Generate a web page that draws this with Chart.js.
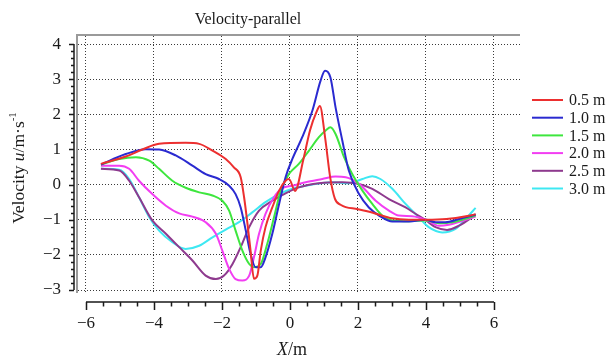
<!DOCTYPE html>
<html>
<head>
<meta charset="utf-8">
<title>Velocity-parallel</title>
<script src="https://cdn.jsdelivr.net/npm/chart.js@4/dist/chart.umd.min.js"></script>
<style>
  html, body { margin: 0; padding: 0; background: #fff; }
  #wrap { width: 615px; height: 356px; }
</style>
</head>
<body>
<div id="wrap"><canvas id="velChart" width="615" height="356"></canvas></div>
<script>
// Velocity profiles (parallel component) at several heights

const LABELS = ['0.5 m', '1.0 m', '1.5 m', '2.0 m', '2.5 m', '3.0 m'];
const COLORS = ['#ec2f2f', '#2a2ad0', '#3ee63e', '#f23ef2', '#8e3a8e', '#3ee8f2'];

const X_05 = [-5.56, -4.83, -4.34, -3.85, -3.07, -2.67, -2.28, -1.89, -1.65, -1.45, -1.35, -1.25, -1.16, -1.06, -0.96, -0.86, -0.72, -0.52, -0.32, -0.13, -0.03, 0.15, 0.39, 0.59, 0.78, 0.88, 1.03, 1.18, 1.32, 1.5, 2.0, 2.5, 3.0, 3.5, 4.0, 4.6, 5.3, 5.46];
const V_05 = [0.59, 0.80, 1.0, 1.16, 1.19, 1.16, 0.97, 0.73, 0.49, 0.21, -0.36, -1.12, -1.88, -2.68, -2.59, -1.88, -1.21, -0.65, -0.17, 0.11, 0.16, -0.18, 0.70, 1.55, 2.07, 2.24, 1.36, 0.22, -0.40, -0.58, -0.70, -0.82, -0.96, -1.0, -1.0, -0.98, -0.88, -0.84];

const X_10 = [-5.56, -4.83, -4.24, -3.85, -3.36, -2.87, -2.48, -2.09, -1.79, -1.60, -1.45, -1.30, -1.16, -1.01, -0.86, -0.72, -0.52, -0.32, -0.13, 0.07, 0.36, 0.66, 0.90, 1.03, 1.19, 1.34, 1.54, 1.73, 2.03, 2.32, 2.62, 3.01, 3.50, 4.0, 4.28, 4.57, 4.97, 5.46];
const V_10 = [0.57, 0.87, 1.01, 1.0, 0.83, 0.54, 0.30, 0.16, -0.03, -0.27, -0.65, -1.31, -1.97, -2.35, -2.35, -2.07, -1.40, -0.55, 0.21, 0.73, 1.35, 2.11, 2.96, 3.24, 3.05, 2.20, 1.25, 0.40, -0.27, -0.65, -0.88, -1.05, -1.05, -1.0, -1.07, -1.07, -0.98, -0.85];

const X_15 = [-5.56, -5.02, -4.53, -4.14, -3.85, -3.46, -3.07, -2.67, -2.28, -1.99, -1.79, -1.60, -1.40, -1.20, -1.06, -0.86, -0.67, -0.47, -0.27, -0.03, 0.26, 0.56, 0.85, 1.05, 1.19, 1.34, 1.59, 1.83, 2.13, 2.42, 2.71, 3.01, 3.50, 4.0, 4.38, 4.77, 5.46];
const V_15 = [0.57, 0.73, 0.78, 0.68, 0.45, 0.11, -0.09, -0.22, -0.31, -0.46, -0.74, -1.31, -1.88, -2.26, -2.35, -2.26, -1.69, -0.93, -0.17, 0.30, 0.59, 0.97, 1.35, 1.54, 1.63, 1.44, 0.78, 0.30, -0.17, -0.55, -0.88, -1.02, -1.04, -1.02, -1.10, -1.07, -0.88];

const X_20 = [-5.56, -5.02, -4.73, -4.44, -4.05, -3.65, -3.26, -2.87, -2.48, -2.18, -1.99, -1.79, -1.60, -1.40, -1.20, -1.06, -0.91, -0.72, -0.47, -0.23, 0.07, 0.46, 0.95, 1.34, 1.64, 2.03, 2.52, 2.91, 3.20, 3.59, 4.0, 4.38, 4.67, 5.46];
const V_20 = [0.54, 0.54, 0.45, 0.11, -0.27, -0.60, -0.82, -0.91, -1.07, -1.40, -1.88, -2.40, -2.69, -2.73, -2.59, -2.07, -1.40, -0.83, -0.36, -0.10, -0.03, 0.07, 0.16, 0.23, 0.21, 0.02, -0.46, -0.74, -0.88, -0.90, -1.0, -1.17, -1.14, -0.91];

const X_25 = [-5.56, -5.02, -4.73, -4.44, -4.05, -3.65, -3.26, -2.87, -2.48, -2.18, -1.94, -1.69, -1.45, -1.20, -0.91, -0.52, -0.13, 0.26, 0.85, 1.54, 2.03, 2.42, 2.91, 3.40, 3.69, 4.0, 4.28, 4.62, 4.97, 5.46];
const V_25 = [0.45, 0.40, 0.11, -0.36, -1.02, -1.40, -1.78, -2.16, -2.59, -2.69, -2.59, -2.26, -1.78, -1.21, -0.74, -0.46, -0.25, -0.08, 0.04, 0.07, 0.02, -0.12, -0.41, -0.65, -0.83, -1.02, -1.21, -1.29, -1.17, -0.86];

const X_30 = [-5.56, -5.02, -4.73, -4.44, -4.14, -3.85, -3.46, -3.07, -2.67, -2.28, -1.89, -1.50, -1.11, -0.72, -0.32, 0.07, 0.66, 1.24, 1.73, 2.13, 2.42, 2.66, 3.01, 3.40, 3.79, 4.08, 4.48, 4.87, 5.21, 5.46];
const V_30 = [0.45, 0.42, 0.16, -0.36, -0.93, -1.31, -1.64, -1.83, -1.74, -1.50, -1.28, -1.07, -0.79, -0.50, -0.27, -0.12, 0.0, 0.07, 0.04, 0.16, 0.24, 0.16, -0.12, -0.55, -0.93, -1.21, -1.36, -1.26, -0.93, -0.66];

const SERIES_X = [X_05, X_10, X_15, X_20, X_25, X_30];
const SERIES_V = [V_05, V_10, V_15, V_20, V_25, V_30];

// axis ranges and tick layout
const X_MIN = -6.235, X_MAX = 6.765, X_STEP = 2;
const Y_MIN = -3.085, Y_MAX = 4.23, Y_STEP = 1;
const X_AXIS_FROM = -6, X_AXIS_TO = 6, X_MINOR = 0.5;
const Y_AXIS_FROM = -3, Y_AXIS_TO = 4, Y_MINOR = 0.2;

const SERIF = '"Liberation Serif", "Times New Roman", serif';
const INK = '#1a1a1a';

Chart.defaults.font.family = SERIF;
Chart.defaults.color = INK;

const minus = v => String(v).replace('-', '\u2212');

// frame, axis lines with tick marks, titles and the legend
const decorPlugin = {
    id: 'decor',
    afterDraw(chart) {
        const ctx = chart.ctx;
        const area = chart.chartArea;
        const xs = chart.scales.x;
        const ys = chart.scales.y;
        ctx.save();

        // grey frame on top and left
        ctx.strokeStyle = '#9a9a9a';
        ctx.lineWidth = 2;
        ctx.beginPath();
        ctx.moveTo(area.right, area.top - 1);
        ctx.lineTo(area.left - 1, area.top - 1);
        ctx.lineTo(area.left - 1, area.bottom);
        ctx.stroke();

        // left axis line with ticks
        const axX = 74;
        ctx.strokeStyle = INK;
        ctx.lineWidth = 1.5;
        ctx.beginPath();
        ctx.moveTo(axX, ys.getPixelForValue(Y_AXIS_TO));
        ctx.lineTo(axX, ys.getPixelForValue(Y_AXIS_FROM));
        const nY = Math.round((Y_AXIS_TO - Y_AXIS_FROM) / Y_MINOR);
        for (let i = 0; i <= nY; i++) {
            const v = Y_AXIS_FROM + i * Y_MINOR;
            const py = Math.round(ys.getPixelForValue(v)) + 0.5;
            const len = i % 5 === 0 ? 5 : 3;
            ctx.moveTo(axX, py);
            ctx.lineTo(axX - len, py);
        }
        ctx.stroke();

        // bottom axis line with ticks
        const axY = 302;
        ctx.beginPath();
        ctx.moveTo(xs.getPixelForValue(X_AXIS_FROM), axY);
        ctx.lineTo(xs.getPixelForValue(X_AXIS_TO), axY);
        const nX = Math.round((X_AXIS_TO - X_AXIS_FROM) / X_MINOR);
        for (let i = 0; i <= nX; i++) {
            const v = X_AXIS_FROM + i * X_MINOR;
            const px = Math.round(xs.getPixelForValue(v)) + 0.5;
            const len = i % 4 === 0 ? 8 : 4.5;
            ctx.moveTo(px, axY);
            ctx.lineTo(px, axY + len);
        }
        ctx.stroke();

        ctx.fillStyle = INK;
        ctx.textBaseline = 'middle';

        // title
        ctx.font = '16px ' + SERIF;
        ctx.textAlign = 'center';
        ctx.fillText('Velocity-parallel', 248, 20);

        // x axis title: X/m
        const xParts = [['italic 18px ' + SERIF, 'X', 0], ['18px ' + SERIF, '/m', 0]];
        drawParts(ctx, xParts, 292, 350);

        // y axis title, rotated
        ctx.translate(19, 168);
        ctx.rotate(-Math.PI / 2);
        const yParts = [
            ['17.5px ' + SERIF, 'Velocity ', 0],
            ['italic 17.5px ' + SERIF, 'u', 0],
            ['17.5px ' + SERIF, '/m\u00b7s', 0],
            ['11px ' + SERIF, '-1', -6]
        ];
        drawParts(ctx, yParts, 0, 0);
        ctx.setTransform(1, 0, 0, 1, 0, 0);

        // legend
        ctx.font = '16px ' + SERIF;
        ctx.textAlign = 'left';
        chart.data.datasets.forEach((ds, i) => {
            const ly = 100 + i * 17.7;
            ctx.strokeStyle = ds.borderColor;
            ctx.lineWidth = 2;
            ctx.beginPath();
            ctx.moveTo(532, ly);
            ctx.lineTo(563, ly);
            ctx.stroke();
            ctx.fillStyle = INK;
            ctx.fillText(ds.label, 569, ly + 1);
        });

        ctx.restore();
    }
};

// draws mixed-font text centred on (cx, cy)
function drawParts(ctx, parts, cx, cy) {
    let total = 0;
    parts.forEach(p => { ctx.font = p[0]; total += ctx.measureText(p[1]).width; });
    let x = cx - total / 2;
    ctx.textAlign = 'left';
    parts.forEach(p => {
        ctx.font = p[0];
        ctx.fillText(p[1], x, cy + p[2]);
        x += ctx.measureText(p[1]).width;
    });
}

const datasets = LABELS.map((label, i) => ({
    label: label,
    data: SERIES_X[i].map((x, j) => ({ x: x, y: SERIES_V[i][j] })),
    borderColor: COLORS[i],
    backgroundColor: COLORS[i],
    borderWidth: 2,
    pointRadius: 0,
    fill: false,
    cubicInterpolationMode: 'monotone'
}));

new Chart(document.getElementById('velChart'), {
    type: 'line',
    data: { datasets: datasets },
    options: {
        responsive: false,
        animation: false,
        layout: { padding: { left: 0, right: 95, top: 36, bottom: 0 } },
        plugins: {
            legend: { display: false },
            title: { display: false },
            tooltip: { enabled: false }
        },
        scales: {
            x: {
                type: 'linear',
                min: X_MIN,
                max: X_MAX,
                afterFit: scale => { scale.height = 63; },
                border: { display: false, dash: [1, 2] },
                grid: { color: '#3a3a3a', lineWidth: 1, drawTicks: false },
                ticks: {
                    stepSize: X_STEP,
                    includeBounds: false,
                    padding: 20,
                    font: { size: 17 },
                    color: INK,
                    callback: v => minus(v)
                }
            },
            y: {
                type: 'linear',
                min: Y_MIN,
                max: Y_MAX,
                afterFit: scale => { scale.width = 78; },
                border: { display: false, dash: [1, 2] },
                grid: { color: '#3a3a3a', lineWidth: 1, drawTicks: false },
                ticks: {
                    stepSize: Y_STEP,
                    includeBounds: false,
                    padding: 17,
                    font: { size: 17 },
                    color: INK,
                    callback: v => minus(v)
                }
            }
        }
    },
    plugins: [decorPlugin]
});
</script>
</body>
</html>
